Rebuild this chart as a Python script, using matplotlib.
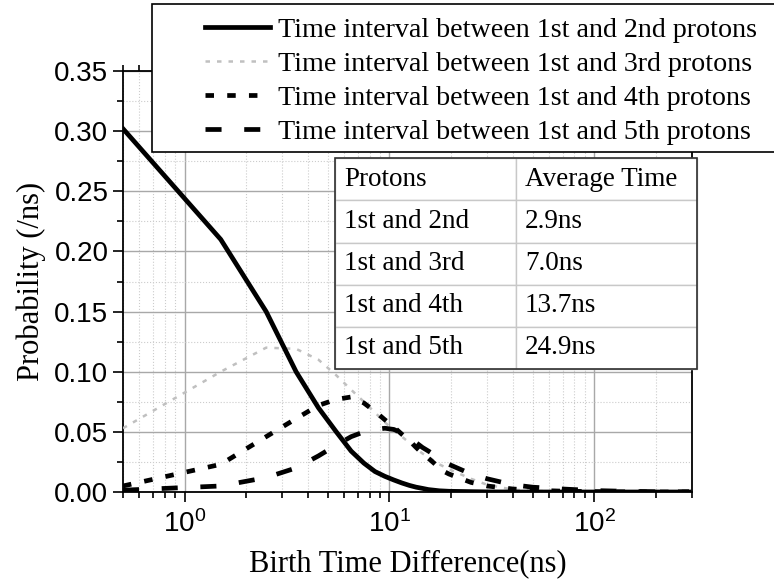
import matplotlib
matplotlib.use('Agg')
import matplotlib.pyplot as plt
from matplotlib.patches import Rectangle
from matplotlib.ticker import MultipleLocator, LogLocator, NullFormatter, FormatStrFormatter

# birth time difference (ns), shared by all four series
time_ns = [0.5, 1.5, 2.5, 3.5, 4.5, 5.5, 6.5, 7.5, 8.5, 9.5,
           10.5, 11.5, 12.5, 13.5, 14.5, 15.5, 16.5, 17.5, 18.5, 19.5,
           25, 30, 40, 50, 70, 100, 150, 200, 290]

prob_1_2 = [0.302, 0.210, 0.150, 0.100, 0.070, 0.050, 0.034, 0.024, 0.017, 0.013,
            0.010, 0.0075, 0.0055, 0.004, 0.003, 0.002, 0.0015, 0.001, 0.0008, 0.0006,
            0.0003, 0.0001, 0.0, 0.0, 0.0, 0.0, 0.0, 0.0, 0.0]
prob_1_3 = [0.053, 0.100, 0.120, 0.119, 0.110, 0.097, 0.085, 0.075, 0.066, 0.058,
            0.051, 0.046, 0.041, 0.036, 0.032, 0.029, 0.026, 0.023, 0.021, 0.019,
            0.011, 0.006, 0.002, 0.001, 0.0003, 0.0001, 0.0, 0.0, 0.0]
prob_1_4 = [0.005, 0.023, 0.046, 0.061, 0.072, 0.077, 0.079, 0.074, 0.067, 0.060,
            0.054, 0.048, 0.043, 0.037, 0.032, 0.028, 0.024, 0.020, 0.017, 0.015,
            0.008, 0.005, 0.0025, 0.0015, 0.0007, 0.0003, 0.0001, 0.0, 0.0]
prob_1_5 = [0.0015, 0.005, 0.012, 0.020, 0.030, 0.039, 0.046, 0.050, 0.052, 0.053,
            0.052, 0.049, 0.045, 0.041, 0.037, 0.034, 0.031, 0.028, 0.025, 0.023,
            0.015, 0.011, 0.006, 0.004, 0.0025, 0.0012, 0.0005, 0.0002, 0.0001]

labels = ['Time interval between 1st and 2nd protons',
          'Time interval between 1st and 3rd protons',
          'Time interval between 1st and 4th protons',
          'Time interval between 1st and 5th protons']

table_header = ['Protons', 'Average Time']
table_pairs = ['1st and 2nd', '1st and 3rd', '1st and 4th', '1st and 5th']
table_times = ['2.9ns', '7.0ns', '13.7ns', '24.9ns']

SERIF = 'Liberation Serif'
plt.rcParams['font.family'] = 'Liberation Sans'
plt.rcParams['mathtext.default'] = 'regular'

W, H = 774, 580
fig = plt.figure(figsize=(W / 100, H / 100), dpi=100)
ax = fig.add_axes([123 / W, 88 / H, 569 / W, 421 / H])

l1, = ax.plot(time_ns, prob_1_2, color='black', lw=3.4, solid_joinstyle='miter', zorder=5)
l2, = ax.plot(time_ns, prob_1_3, color='#c0c0c0', lw=1.8, dashes=(1.8, 2.8), zorder=3)
l3, = ax.plot(time_ns, prob_1_4, color='black', lw=3.4, dashes=(1.8, 2.8), dash_capstyle='butt', zorder=4)
l4, = ax.plot(time_ns, prob_1_5, color='black', lw=3.4, dashes=(3.4, 4.8), dash_capstyle='butt', zorder=4)

ax.set_xscale('log')
ax.set_xlim(0.5, 300)
ax.set_ylim(0, 0.35)
ax.yaxis.set_major_locator(MultipleLocator(0.05))
ax.yaxis.set_minor_locator(MultipleLocator(0.025))
ax.yaxis.set_major_formatter(FormatStrFormatter('%.2f'))
ax.xaxis.set_major_locator(LogLocator(base=10, numticks=10))
ax.xaxis.set_minor_locator(LogLocator(base=10, subs=range(2, 10), numticks=20))
ax.xaxis.set_minor_formatter(NullFormatter())

ax.grid(which='major', color='#a8a8a8', lw=1.0, ls='-')
ax.grid(which='minor', color='#cccccc', lw=0.8, ls=':')
ax.set_axisbelow(True)

for s in ax.spines.values():
    s.set_linewidth(1.3)
    s.set_color('black')
ax.tick_params(which='both', direction='out', labelsize=20, width=1.2, top=True, right=False)
ax.tick_params(which='major', length=7)
ax.tick_params(which='minor', length=4)
ax.tick_params(axis='x', which='major', pad=6)

ax.set_xlabel('Birth Time Difference(ns)', family=SERIF, fontsize=22, labelpad=8)
ax.set_ylabel('Probability (/ns)', family=SERIF, fontsize=22, labelpad=6)

# table with the average times
cells = [[p, t] for p, t in zip(table_pairs, table_times)]
tab = ax.table(cellText=cells, colLabels=table_header, cellLoc='left', colLoc='left',
               bbox=[0.3726, 0.292, 0.636, 0.501], zorder=10)
tab.auto_set_font_size(False)
for (r, c), cell in tab.get_celld().items():
    cell.set_edgecolor('#c8c8c8')
    cell.set_linewidth(1.0)
    cell.set_facecolor('white')
    cell.PAD = 0.05
    cell.get_text().set_fontsize(19.5)
    cell.get_text().set_fontfamily(SERIF)
ax.add_patch(Rectangle((0.3726, 0.292), 0.636, 0.501, transform=ax.transAxes,
                       fill=False, edgecolor='#303030', lw=1.2, clip_on=False, zorder=11))

# legend box reaching past the right edge of the figure
fig.add_artist(Rectangle((152 / W, 1 - 152 / H), 0.9, 148 / H, transform=fig.transFigure,
                         facecolor='white', edgecolor='black', lw=1.2, zorder=3))
fig.legend([l1, l2, l3, l4], labels, loc='upper left',
           bbox_to_anchor=(205 / W, 1 - 17 / H), frameon=False,
           prop={'family': SERIF, 'size': 20.2}, handlelength=2.3, handletextpad=0.3,
           labelspacing=0.3, borderpad=0.0, borderaxespad=0.0)

fig.savefig('out.png', dpi=100)
